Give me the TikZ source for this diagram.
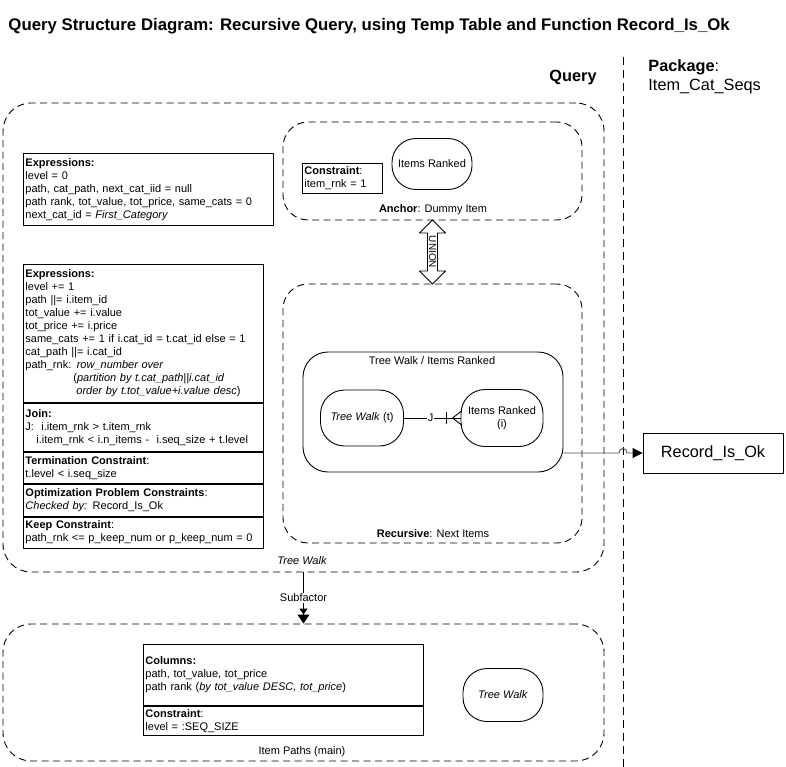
\documentclass[tikz,border=0pt]{standalone}
\usepackage{fontspec}
\setmainfont{Liberation Sans}
\usetikzlibrary{positioning,calc,arrows.meta,shapes.arrows}

\begin{document}
\begin{tikzpicture}[x=1pt, y=-1pt, line join=round, line width=0.9pt,
    font=\fontsize{11}{13}\selectfont,
    qbox/.style={draw, dash pattern=on 7pt off 4.5pt, rounded corners=28pt, inner sep=0pt},
    infobox/.style={draw, align=left, text width=#1, inner xsep=2pt, inner ysep=3pt},
    entity/.style={draw, rounded corners=24pt, align=center, inner sep=2pt},
    boxlabel/.style={inner sep=1pt}]

    \useasboundingbox (0,0) rectangle (786,767);

    % Title, query label and package column
    \node[anchor=base west, font=\fontsize{16.8}{19}\selectfont\bfseries, inner sep=0pt] (title) at (8,31)
        {Query Structure Diagram: Recursive Query, using Temp Table and Function Record\_Is\_Ok};
    \node[anchor=base west, font=\fontsize{16.3}{19}\selectfont\bfseries, inner sep=0pt] (query) at (549,82) {Query};
    \node[anchor=base west, font=\fontsize{16.3}{19}\selectfont, inner sep=0pt] (package) at (648,72) {\textbf{Package}:};
    \node[anchor=base west, font=\fontsize{16.3}{19}\selectfont, inner sep=0pt] (pkgname) at (648,91) {Item\_Cat\_Seqs};

    % Separator between query and package
    \coordinate (sepTop) at (623,57);
    \coordinate (sepBot) at (623,767);
    \draw[dash pattern=on 8pt off 5pt] (sepTop) -- (sepBot);

    % 1. Dashed subquery boxes
    \node[qbox, minimum width=601, minimum height=469] (treewalk) at (303.5,337.5) {};
    \node[qbox, rounded corners=25pt, minimum width=299, minimum height=98] (anchorbox) at (432.5,171) {};
    \node[qbox, rounded corners=25pt, minimum width=299, minimum height=259] (recbox) at (432.5,413.5) {};
    \node[qbox, minimum width=601, minimum height=137] (itempaths) at (303.5,692.5) {};

    \node[boxlabel, font=\fontsize{11}{13}\selectfont\itshape] (twlabel) at (302,561) {Tree Walk};
    \node[boxlabel] (anchorlabel) at (433,210) {\textbf{Anchor}: Dummy Item};
    \node[boxlabel] (reclabel) at (433,534) {\textbf{Recursive}: Next Items};
    \node[boxlabel] (iplabel) at (302,752) {Item Paths (main)};

    % 2. Expression boxes of the tree walk
    \node[infobox=246pt, anchor=north west, minimum height=72] (expr1) at (23,153)
        {\textbf{Expressions:}\\
         level = 0\\
         path, cat\_path, next\_cat\_iid = null\\
         path rank, tot\_value, tot\_price, same\_cats = 0\\
         next\_cat\_id = \textit{First\_Category}};

    \node[infobox=236pt, anchor=north west, minimum height=138] (expr2) at (23,264)
        {\textbf{Expressions:}\\
         level += 1\\
         path ||= i.item\_id\\
         tot\_value += i.value\\
         tot\_price += i.price\\
         same\_cats += 1 if i.cat\_id = t.cat\_id else = 1\\
         cat\_path ||= i.cat\_id\\
         path\_rnk: \textit{row\_number over}\\
         \hspace*{48pt}(\textit{partition by t.cat\_path||i.cat\_id}\\
         \hspace*{51pt}\textit{order by t.tot\_value+i.value desc})};
    \node[infobox=236pt, below=0pt of expr2, minimum height=48] (join)
        {\textbf{Join:}\\
         J:\ \ i.item\_rnk > t.item\_rnk\\
         \hspace*{11pt}i.item\_rnk < i.n\_items -\ \ i.seq\_size + t.level};
    \node[infobox=236pt, below=0pt of join, minimum height=31] (term)
        {\textbf{Termination Constraint}:\\
         t.level < i.seq\_size};
    \node[infobox=236pt, below=0pt of term, minimum height=32] (optim)
        {\textbf{Optimization Problem Constraints}:\\
         \textit{Checked by:} Record\_Is\_Ok};
    \node[infobox=236pt, below=0pt of optim, minimum height=31] (keep)
        {\textbf{Keep Constraint}:\\
         path\_rnk <= p\_keep\_num or p\_keep\_num = 0};

    % 3. Anchor member
    \node[infobox=76pt, anchor=north west, minimum height=30] (anchorcons) at (302,163)
        {\textbf{Constraint}:\\item\_rnk = 1};
    \node[entity, minimum width=80, minimum height=51] (anchoritems) at (432,164) {Items Ranked};

    % UNION between anchor and recursive member
    \node[draw, double arrow, rotate=-90, double arrow head extend=8pt,
          minimum width=26, minimum height=64, inner xsep=1pt, inner ysep=1pt,
          font=\fontsize{10}{12}\selectfont] (union) at (432.5,252) {UNION};

    % 4. Recursive member
    \node[draw, rounded corners=25pt, minimum width=260, minimum height=120] (twir) at (433,412) {};
    \node[boxlabel] (twirlabel) at (432,361) {Tree Walk / Items Ranked};
    \node[entity, minimum width=83, minimum height=56] (twt) at (362,418) {\textit{Tree Walk} (t)};
    \node[entity, minimum width=82, minimum height=57] (iri) at (502,418) {Items Ranked\\(i)};

    \draw (twt) -- node[fill=white, inner sep=1pt, pos=0.47] (jlabel) {J} (iri);
    % one-to-many end
    \draw ($(iri.west)+(-14,-6)$) -- ($(iri.west)+(-14,6)$);
    \draw ($(iri.west)+(-8,0)$) -- ($(iri.west)+(1,-7)$);
    \draw ($(iri.west)+(-8,0)$) -- ($(iri.west)+(1,7)$);

    % 5. Call of the function in the package
    \node[draw, minimum width=140, minimum height=40, font=\fontsize{16.3}{19}\selectfont] (rec) at (713,453) {Record\_Is\_Ok};
    \coordinate (hopL) at (619,453);
    \coordinate (hopR) at (627,453);
    \draw[black!70, -{Triangle[length=10pt, width=10pt, color=black]}]
        (twir.east |- rec.west) -- (hopL) .. controls ($(hopL)+(0,-6)$) and ($(hopR)+(0,-6)$) .. (hopR) -- (rec.west);

    % 6. Main query
    \draw[-{Triangle[length=6pt, width=8pt] Triangle[length=9pt, width=12pt]}]
        (treewalk.south) -- node[fill=white, inner sep=1pt] (subfactor) {Subfactor} (itempaths.north);

    \node[infobox=276pt, anchor=north west, minimum height=61] (colhead) at (143,644)
        {\textbf{Columns:}\\
         path, tot\_value, tot\_price\\
         path rank (\textit{by tot\_value DESC, tot\_price})};
    \node[infobox=276pt, below=0pt of colhead, minimum height=29] (colcons)
        {\textbf{Constraint}:\\
         level = :SEQ\_SIZE};
    \node[entity, minimum width=80, minimum height=53] (twmain) at (503,695) {\textit{Tree Walk}};

\end{tikzpicture}
\end{document}
